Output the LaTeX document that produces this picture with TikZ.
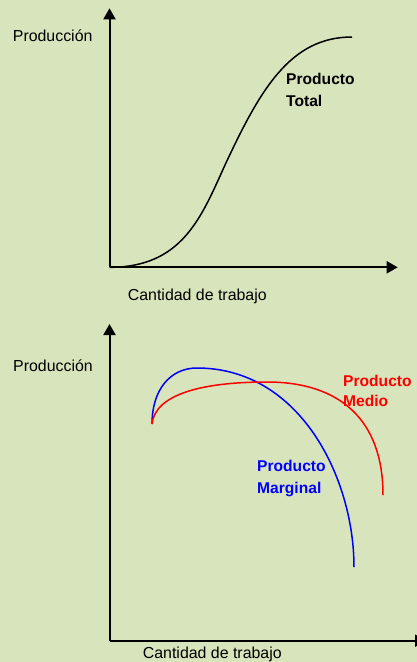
\documentclass[tikz,border=0pt]{standalone}
\usepackage{fontspec}
\setmainfont{Liberation Sans}
\usetikzlibrary{arrows.meta}
\definecolor{bg}{HTML}{D8E4BC}
\definecolor{pmred}{HTML}{FF0000}
\definecolor{pmblue}{HTML}{0000FF}
\begin{document}
\begin{tikzpicture}[x=1pt,y=-1pt,
  axis/.style={line width=2pt,-{Triangle[length=11pt,width=12pt]}},
  curve/.style={line width=1.5pt},
  lbl/.style={inner sep=0pt,anchor=base west,font=\fontsize{15.9}{19}\selectfont},
  blbl/.style={inner sep=0pt,anchor=base west,font=\fontsize{15.6}{19}\selectfont\bfseries}]
\useasboundingbox (0,0) rectangle (417,662);
\clip (0,0) rectangle (417,662);
\fill[bg] (0,0) rectangle (417,662);
% top chart
\coordinate (o1) at (109.5,267.3);
\coordinate (y1) at (109.5,8.3);
\coordinate (x1) at (397.7,267.3);
\draw[axis] (o1) -- (y1);
\draw[axis] (o1) -- (x1);
\node[lbl] (prod1) at (12.7,41) {Producción};
\node[lbl] (cant1) at (127.7,300) {Cantidad de trabajo};
\coordinate (pt0) at (109.5,267.3);
\coordinate (pt1) at (225,165);
\coordinate (pt2) at (352,37);
\draw[curve] (pt0) .. controls (182,267.3) and (201,218) .. (pt1)
  .. controls (260,90) and (290,37) .. (pt2);
\node[blbl] (ptA) at (286,84) {Producto};
\node[blbl] (ptB) at (286,106) {Total};
% bottom chart
\coordinate (o2) at (109.5,640.7);
\coordinate (y2) at (109.5,324);
\coordinate (x2) at (426,640.7);
\draw[axis] (o2) -- (y2);
\draw[axis] (o2) -- (x2);
\node[lbl] (prod2) at (13,371.7) {Producción};
\node[lbl] (cant2) at (142.7,658) {Cantidad de trabajo};
\coordinate (s) at (152,424);
\coordinate (pmtop) at (197,368);
\coordinate (pmend) at (354,567);
\coordinate (pmetop) at (267,382);
\coordinate (pmeend) at (383,495);
\draw[curve,pmblue] (s) .. controls (152,390) and (170,368) .. (pmtop)
  .. controls (300,368) and (354,478) .. (pmend);
\draw[curve,pmred] (s) .. controls (155,395) and (200,382) .. (pmetop)
  .. controls (340,382) and (383,420) .. (pmeend);
\node[blbl,text=pmred] (pmeA) at (343,386) {Producto};
\node[blbl,text=pmred] (pmeB) at (343,406.7) {Medio};
\node[blbl,text=pmblue] (pmA) at (257,471.7) {Producto};
\node[blbl,text=pmblue] (pmB) at (257,493) {Marginal};
\end{tikzpicture}
\end{document}
